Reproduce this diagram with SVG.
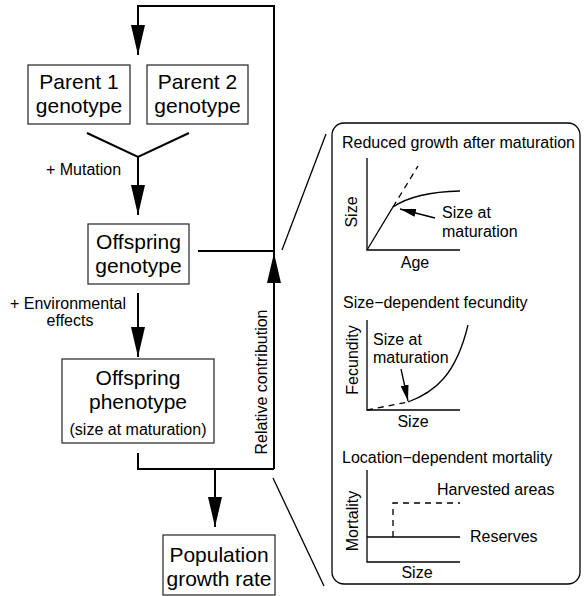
<svg xmlns="http://www.w3.org/2000/svg" width="584" height="596" viewBox="0 0 584 596">
<style>
text{font-family:"Liberation Sans",Arial,sans-serif;fill:#000}
.big{font-size:21px;text-anchor:middle}
.sm{font-size:16px}
.box{fill:#fff;stroke:#222;stroke-width:1.2}
.con{fill:none;stroke:#000;stroke-width:2}
.ax{fill:none;stroke:#000;stroke-width:1.3}
.dash{fill:none;stroke:#000;stroke-width:1.3;stroke-dasharray:6,5}
</style>
<defs>
<marker id="big" markerUnits="userSpaceOnUse" markerWidth="31" markerHeight="15" refX="30" refY="7" orient="auto">
<path d="M0,0 L30,7 L0,14 z" fill="#000"/>
</marker>
<marker id="small" markerUnits="userSpaceOnUse" markerWidth="17" markerHeight="9" refX="16" refY="4" orient="auto">
<path d="M0,0 L16,4 L0,8 z" fill="#000"/>
</marker>
</defs>

<g id="connectors">
<path class="con" d="M274,253 L274,6 L138,6 L138,55" marker-end="url(#big)"/>
<path class="con" d="M274,469 L274,253" marker-end="url(#big)"/>
<path class="con" d="M87,133 L138,157 L189,133"/>
<path class="con" d="M138,157 L138,215" marker-end="url(#big)"/>
<path class="con" d="M198,251 L274,251"/>
<path class="con" d="M138,293 L138,357" marker-end="url(#big)"/>
<path class="con" d="M138,453 L138,469 L274,469"/>
<path class="con" d="M215,469 L215,527" marker-end="url(#big)"/>
<path class="ax" d="M282,250 L326,134"/>
<path class="ax" d="M273,478 L324,586"/>
<text class="sm" x="46" y="175">+ Mutation</text>
<text class="sm" x="10" y="309">+ Environmental</text>
<text class="sm" x="70" y="326" text-anchor="middle">effects</text>
<text class="sm" transform="translate(267,382) rotate(-90)" text-anchor="middle">Relative contribution</text>
</g>

<g id="parent1">
<rect class="box" x="28" y="65" width="102" height="59"/>
<text class="big" x="79" y="89">Parent 1</text>
<text class="big" x="79" y="113">genotype</text>
</g>
<g id="parent2">
<rect class="box" x="147" y="65" width="101" height="59"/>
<text class="big" x="197.5" y="89">Parent 2</text>
<text class="big" x="197.5" y="113">genotype</text>
</g>
<g id="offspring-genotype">
<rect class="box" x="88" y="224" width="101" height="60"/>
<text class="big" x="138.5" y="249">Offspring</text>
<text class="big" x="138.5" y="273">genotype</text>
</g>
<g id="offspring-phenotype">
<rect class="box" x="62" y="359" width="152" height="84"/>
<text class="big" x="138" y="385">Offspring</text>
<text class="big" x="138" y="409">phenotype</text>
<text class="sm" x="138" y="435" text-anchor="middle">(size at maturation)</text>
</g>
<g id="population">
<rect class="box" x="163" y="535" width="112" height="60"/>
<text class="big" x="219" y="562">Population</text>
<text class="big" x="219" y="586">growth rate</text>
</g>

<g id="panel">
<rect x="332" y="123" width="248" height="461" rx="12" fill="none" stroke="#000" stroke-width="1.3"/>
<text class="sm" x="342" y="148">Reduced growth after maturation</text>
<path class="ax" d="M367,158 L367,250 L460,250"/>
<text class="sm" transform="translate(357,212) rotate(-90)" text-anchor="middle">Size</text>
<path class="ax" d="M367,250 L393,207 Q415,192 460,191"/>
<path class="dash" d="M393,207 L418,166"/>
<path class="ax" d="M435,218 L400,209" marker-end="url(#small)"/>
<text class="sm" x="442" y="218">Size at</text>
<text class="sm" x="442" y="237">maturation</text>
<text class="sm" x="415" y="268" text-anchor="middle">Age</text>

<text class="sm" x="343" y="308">Size−dependent fecundity</text>
<path class="ax" d="M367,320 L367,410 L460,410"/>
<text class="sm" transform="translate(358,360) rotate(-90)" text-anchor="middle">Fecundity</text>
<path class="dash" d="M367,410 L408,402"/>
<path class="ax" d="M408,402 C435,392 456,375 468,325"/>
<path class="ax" d="M401,369 L408,401" marker-end="url(#small)"/>
<text class="sm" x="373" y="345">Size at</text>
<text class="sm" x="373" y="363">maturation</text>
<text class="sm" x="413" y="427" text-anchor="middle">Size</text>

<text class="sm" x="342" y="463">Location−dependent mortality</text>
<path class="ax" d="M367,470 L367,562 L460,562"/>
<text class="sm" transform="translate(358,521) rotate(-90)" text-anchor="middle">Mortality</text>
<path class="ax" d="M367,537 L460,537"/>
<path class="dash" d="M393,537 L393,503 L460,503"/>
<text class="sm" x="437" y="495">Harvested areas</text>
<text class="sm" x="470" y="542">Reserves</text>
<text class="sm" x="417" y="578" text-anchor="middle">Size</text>
</g>
</svg>
